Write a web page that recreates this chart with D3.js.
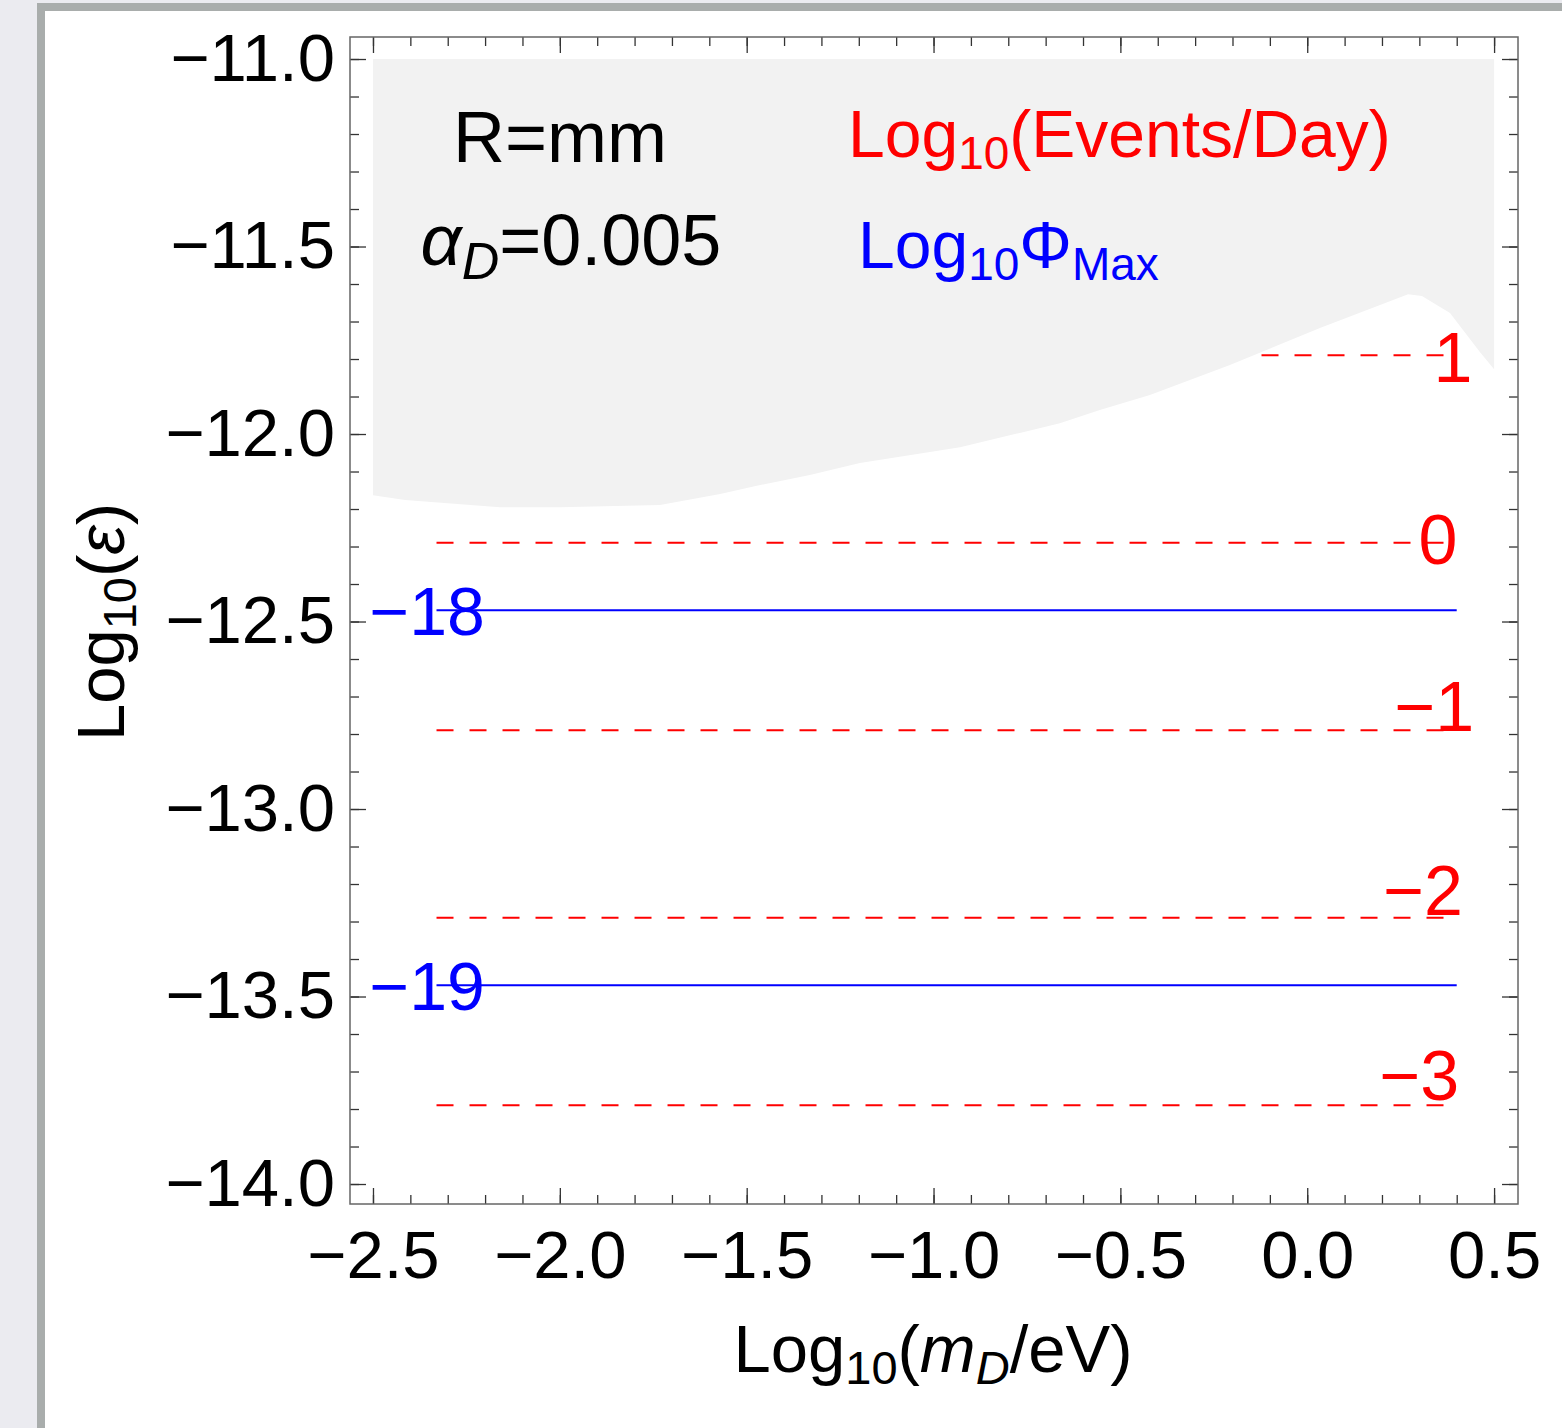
<!DOCTYPE html>
<html>
<head>
<meta charset="utf-8">
<script src="https://cdn.jsdelivr.net/npm/d3@7"></script>
<style>
body { margin: 0; background: #ebebf0; }
svg { display: block; font-family: "Liberation Sans", Arial, sans-serif; }
</style>
</head>
<body>
<div class="chart"></div>
<script>

// Log10(Events/Day) contours (red, dashed)
const eventLevels = [1, 0, -1, -2, -3];
const eventEps = [-11.79, -12.29, -12.79, -13.29, -13.79];
const eventLabelMass = [0.39, 0.35, 0.34, 0.31, 0.30];
const eventLabelEps = [-11.795, -12.28, -12.725, -13.215, -13.71];

// Log10 Phi_Max contours (blue, solid)
const phiLevels = [-18, -19];
const phiEps = [-12.47, -13.47];
const phiLabelMass = [-2.355, -2.355];

// mass range the contours cover
const contourMass = [-2.33, 0.4];

// grey excluded region: lower edge, top at -11
const edgeMass = [-2.5, -2.414, -2.16, -2.0, -1.732, -1.571, -1.464, -1.331, -1.197, -0.929,
                  -0.769, -0.662, -0.555, -0.421, -0.207, 0.034, 0.27, 0.307, 0.382, 0.462, 0.5];
const edgeEps = [-12.163, -12.176, -12.195, -12.195, -12.189, -12.16, -12.136, -12.109, -12.077, -12.035,
                 -11.997, -11.971, -11.936, -11.896, -11.816, -11.717, -11.627, -11.632, -11.677, -11.781, -11.827];
const regionTop = -11.0;

// ticks
const xTicks = [-2.5, -2.0, -1.5, -1.0, -0.5, 0.0, 0.5];
const yTicks = [-14.0, -13.5, -13.0, -12.5, -12.0, -11.5, -11.0];
const xMinor = d3.range(-25, 6).map(i => i / 10);
const yMinor = d3.range(-140, -109).map(i => i / 10);

// page + margin convention
const W = 1562, H = 1428;
const margin = {top: 37, left: 350};
const width = 1168, height = 1167;

const svg = d3.select(".chart").append("svg")
    .attr("width", W)
    .attr("height", H);

// notebook-style frame around the figure
svg.append("rect").attr("width", W).attr("height", H).attr("fill", "#ebebf0");
svg.append("rect").attr("x", 37).attr("y", 3).attr("width", W).attr("height", H).attr("fill", "#a9adac");
svg.append("rect").attr("x", 45).attr("y", 11).attr("width", W).attr("height", H).attr("fill", "white");

const plot = svg.append("g")
    .attr("transform", `translate(${margin.left},${margin.top})`);

const x = d3.scaleLinear().domain([-2.5615, 0.564]).range([0, width]);
const y = d3.scaleLinear().domain([-14.0533, -10.9413]).range([height, 0]);

// contour lines
const hline = d3.line().x(d => x(d[0])).y(d => y(d[1]));

plot.selectAll(".event-line")
    .data(eventEps)
    .join("path")
    .attr("class", "event-line")
    .attr("d", e => hline([[contourMass[0], e], [contourMass[1], e]]))
    .attr("fill", "none")
    .attr("stroke", "#ff0000")
    .attr("stroke-width", 2)
    .attr("stroke-dasharray", "17,16");

plot.selectAll(".phi-line")
    .data(phiEps)
    .join("path")
    .attr("class", "phi-line")
    .attr("d", e => hline([[contourMass[0], e], [contourMass[1], e]]))
    .attr("fill", "none")
    .attr("stroke", "#0000ff")
    .attr("stroke-width", 2);

// excluded region drawn over the contours
const region = [[edgeMass[0], regionTop], [edgeMass[edgeMass.length - 1], regionTop]]
    .concat(edgeMass.map((m, i) => [m, edgeEps[i]]).reverse());

plot.append("path")
    .attr("d", hline(region) + "Z")
    .attr("fill", "#f2f2f2")
    .attr("stroke", "none");

// axes - ticks point inward on all four sides
const fmt = d3.format(".1f");

function styleAxis(g) {
    g.select(".domain").remove();
    g.attr("font-family", null).attr("font-size", 67).attr("color", "#333");
    g.selectAll(".tick line").attr("stroke-width", 1.3);
    g.selectAll("text").attr("fill", "black");
}

plot.append("g")
    .attr("transform", `translate(0,${height})`)
    .call(d3.axisBottom(x).tickValues(xMinor).tickSize(-9).tickFormat(""))
    .call(styleAxis);
plot.append("g")
    .attr("transform", `translate(0,${height})`)
    .call(d3.axisBottom(x).tickValues(xTicks).tickSize(-16).tickPadding(26).tickFormat(fmt))
    .call(styleAxis);

plot.append("g")
    .call(d3.axisTop(x).tickValues(xMinor).tickSize(-9).tickFormat(""))
    .call(styleAxis);
plot.append("g")
    .call(d3.axisTop(x).tickValues(xTicks).tickSize(-16).tickFormat(""))
    .call(styleAxis);

plot.append("g")
    .call(d3.axisLeft(y).tickValues(yMinor).tickSize(-9).tickFormat(""))
    .call(styleAxis);
plot.append("g")
    .call(d3.axisLeft(y).tickValues(yTicks).tickSize(-16).tickPadding(15).tickFormat(fmt))
    .call(styleAxis);

plot.append("g")
    .attr("transform", `translate(${width},0)`)
    .call(d3.axisRight(y).tickValues(yMinor).tickSize(-9).tickFormat(""))
    .call(styleAxis);
plot.append("g")
    .attr("transform", `translate(${width},0)`)
    .call(d3.axisRight(y).tickValues(yTicks).tickSize(-16).tickFormat(""))
    .call(styleAxis);

// frame
plot.append("rect")
    .attr("width", width)
    .attr("height", height)
    .attr("fill", "none")
    .attr("stroke", "#666")
    .attr("stroke-width", 1.5);

// contour labels
const minus = v => v < 0 ? "\u2212" + Math.abs(v) : String(v);

plot.selectAll(".event-label")
    .data(eventLevels)
    .join("text")
    .attr("class", "event-label")
    .attr("x", (d, i) => x(eventLabelMass[i]))
    .attr("y", (d, i) => y(eventLabelEps[i]))
    .attr("dy", "0.36em")
    .attr("text-anchor", "middle")
    .attr("font-size", 70)
    .attr("fill", "#ff0000")
    .text(minus);

plot.selectAll(".phi-label")
    .data(phiLevels)
    .join("text")
    .attr("class", "phi-label")
    .attr("x", (d, i) => x(phiLabelMass[i]))
    .attr("y", (d, i) => y(phiEps[i]))
    .attr("dy", "0.36em")
    .attr("text-anchor", "middle")
    .attr("font-size", 68)
    .attr("fill", "#0000ff")
    .text(minus);

// rich text helper: parts = [text, {sub, italic}]
function rich(t, parts, sub = 46, shift = 12) {
    let down = false;
    parts.forEach(([s, o = {}]) => {
        const ts = t.append("tspan").text(s);
        if (o.sub && !down) { ts.attr("dy", shift).attr("font-size", sub); down = true; }
        else if (o.sub) { ts.attr("font-size", sub); }
        else if (down) { ts.attr("dy", -shift); down = false; }
        if (o.italic) ts.attr("font-style", "italic");
    });
    return t;
}

const notes = svg.append("g");

rich(notes.append("text").attr("x", 560).attr("y", 162).attr("text-anchor", "middle").attr("font-size", 72),
    [["R=mm"]]);
rich(notes.append("text").attr("x", 571).attr("y", 265).attr("text-anchor", "middle").attr("font-size", 72),
    [["\u03b1", {italic: true}], ["D", {sub: true, italic: true}], ["=0.005"]], 52, 14);
rich(notes.append("text").attr("x", 848).attr("y", 157).attr("fill", "#ff0000").attr("font-size", 66),
    [["Log"], ["10", {sub: true}], ["(Events/Day)"]]);
rich(notes.append("text").attr("x", 858).attr("y", 268).attr("fill", "#0000ff").attr("font-size", 66),
    [["Log"], ["10", {sub: true}], ["\u03a6"], ["Max", {sub: true}]]);

// axis titles
rich(notes.append("text").attr("x", 933).attr("y", 1372).attr("text-anchor", "middle").attr("font-size", 67),
    [["Log"], ["10", {sub: true}], ["("], ["m", {italic: true}], ["D", {sub: true, italic: true}], ["/eV)"]], 47);
rich(notes.append("text")
        .attr("transform", "translate(124,622) rotate(-90)")
        .attr("text-anchor", "middle")
        .attr("font-size", 67),
    [["Log"], ["10", {sub: true}], ["("], ["\u03b5", {italic: true}], [")"]], 47);

</script>
</body>
</html>
